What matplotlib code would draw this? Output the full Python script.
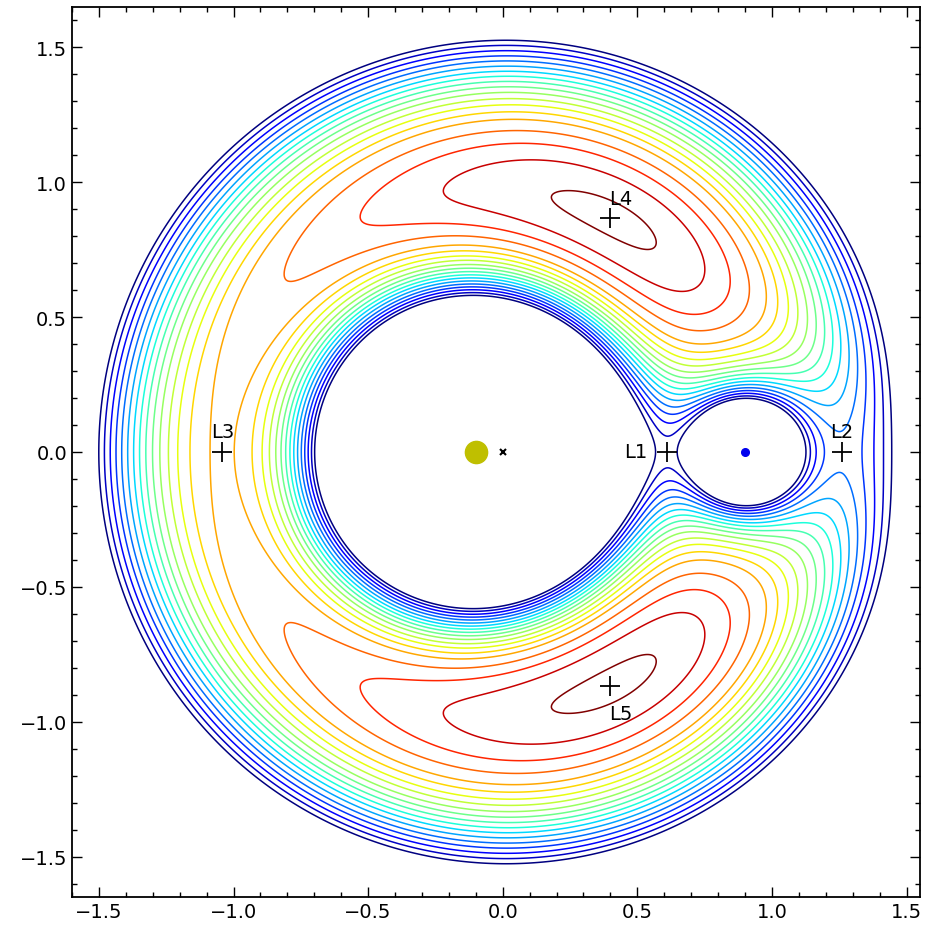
import numpy as np
import matplotlib
matplotlib.use('Agg')
import matplotlib.pyplot as plt

# mass ratio and positions of the two bodies
mu = 0.1
big_x = -mu
small_x = 1 - mu

# contour levels of the effective potential
levels = [-1.810, -1.789, -1.768, -1.748, -1.729, -1.710, -1.692, -1.675,
          -1.658, -1.641, -1.624, -1.606, -1.589, -1.571, -1.553, -1.529,
          -1.506, -1.483, -1.460]

# lagrange points
lag_names = ['L1', 'L2', 'L3', 'L4', 'L5']
lag_x = [0.609, 1.260, -1.041, 0.4, 0.4]
lag_y = [0.0, 0.0, 0.0, 0.866, -0.866]

x = np.linspace(-1.6, 1.55, 800)
y = np.linspace(-1.65, 1.65, 800)
X, Y = np.meshgrid(x, y)
r1 = np.sqrt((X - big_x)**2 + Y**2)
r2 = np.sqrt((X - small_x)**2 + Y**2)
U = -0.5 * (X**2 + Y**2) - (1 - mu) / r1 - mu / r2

fig = plt.figure(figsize=(9.25, 9.29), dpi=100)
ax = fig.add_axes([72/925, 1 - 898/929, 848/925, 890/929])
ax.contour(X, Y, U, levels, cmap='jet', linewidths=1.1)

ax.plot(big_x, 0, 'o', color='#bfbf00', markersize=16)
ax.plot(small_x, 0, 'o', color='#0000ee', markersize=5.5)
ax.plot(0, 0, 'x', color='k', markersize=5, mew=1.5)

ax.plot(lag_x, lag_y, '+', color='k', markersize=14, mew=1.3)
fs = 14
ax.text(lag_x[0] - 0.07, lag_y[0], lag_names[0], ha='right', va='center', fontsize=fs)
ax.text(lag_x[1], lag_y[1] + 0.04, lag_names[1], ha='center', va='bottom', fontsize=fs)
ax.text(lag_x[2], lag_y[2] + 0.04, lag_names[2], ha='center', va='bottom', fontsize=fs)
ax.text(lag_x[3] + 0.04, lag_y[3] + 0.04, lag_names[3], ha='center', va='bottom', fontsize=fs)
ax.text(lag_x[4] + 0.04, lag_y[4] - 0.07, lag_names[4], ha='center', va='top', fontsize=fs)

ax.set_xlim(-1.6, 1.55)
ax.set_ylim(-1.65, 1.65)
ax.set_xticks([-1.5, -1.0, -0.5, 0.0, 0.5, 1.0, 1.5])
ax.set_yticks([-1.5, -1.0, -0.5, 0.0, 0.5, 1.0, 1.5])
ax.set_xticks(np.arange(-1.6, 1.56, 0.1), minor=True)
ax.set_yticks(np.arange(-1.6, 1.65, 0.1), minor=True)
ax.tick_params(which='both', direction='in', top=True, right=True, labelsize=fs)
ax.tick_params(which='major', length=7, width=1)
ax.tick_params(which='minor', length=3.5, width=1)
for s in ax.spines.values():
    s.set_linewidth(1.3)

fig.savefig('out.png', dpi=100)
